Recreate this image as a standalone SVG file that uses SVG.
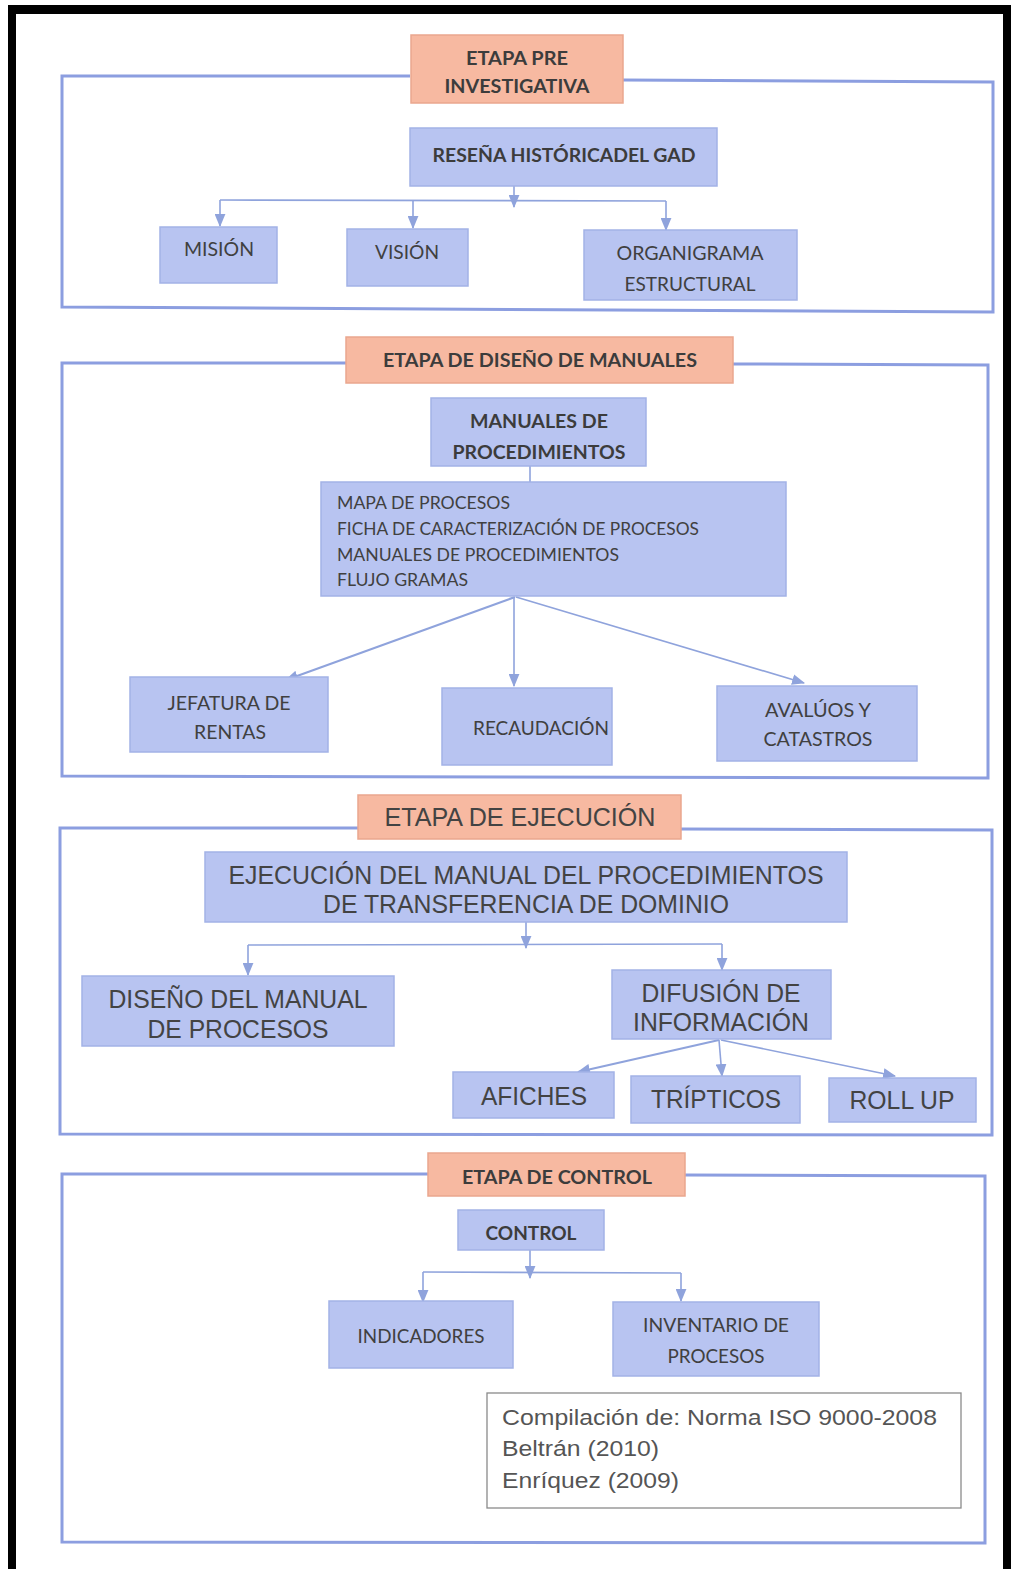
<svg xmlns="http://www.w3.org/2000/svg" width="1014" height="1569" viewBox="0 0 1014 1569">
<defs>
<style>
.frame{fill:none;stroke:#8c9ee0;stroke-width:3}
.box{fill:#b8c4f1;stroke:#a3b2e6;stroke-width:1.5}
.title{fill:#f7b9a1;stroke:#eaa78e;stroke-width:1.5}
.c{font-family:Lato,"Open Sans",sans-serif;fill:#404040;text-anchor:middle}
.cb{font-family:Lato,"Open Sans",sans-serif;fill:#3c3c3c;text-anchor:middle;font-weight:bold}
.cl{font-family:Lato,"Open Sans",sans-serif;fill:#404040}
.a{font-family:"Liberation Sans",Arial,sans-serif;fill:#434343;text-anchor:middle}
.al{font-family:"Liberation Sans",Arial,sans-serif;fill:#555555}
.con{fill:none;stroke:#8fa3dc;stroke-width:1.6}
.conw{fill:none;stroke:#8fa3dc;stroke-width:2.2}
</style>
<marker id="arrL" viewBox="0 0 12 10" refX="11" refY="5" markerWidth="13" markerHeight="11" markerUnits="userSpaceOnUse" orient="auto">
<path d="M0,0 L12,5 L0,10 z" fill="#8fa3dc"/>
</marker>
</defs>
<rect width="1014" height="1569" fill="#ffffff"/>
<g id="outer-frame" fill="#000000">
<rect x="8" y="5" width="1003" height="9"/>
<rect x="8" y="5" width="8" height="1564"/>
<rect x="1003" y="5" width="8" height="1564"/>
</g>
<g id="frames">
<path class="frame" d="M410,76 L62,76 L62,307 L993,312 L993,82 L623,80"/>
<path class="frame" d="M346,363 L62,363 L62,776 L988,778 L988,365 L733,364"/>
<path class="frame" d="M358,828 L60,828 L60,1134 L992,1135 L992,830 L681,829"/>
<path class="frame" d="M428,1174 L62,1174 L62,1542 L985,1543 L985,1176 L685,1175"/>
</g>
<g id="connectors">
<line class="con" x1="514" y1="186" x2="514" y2="207" marker-end="url(#arrL)"/>
<line class="con" x1="220" y1="200" x2="666" y2="201"/>
<line class="con" x1="220" y1="200" x2="220" y2="226" marker-end="url(#arrL)"/>
<line class="con" x1="413" y1="200" x2="413" y2="228" marker-end="url(#arrL)"/>
<line class="con" x1="666" y1="201" x2="666" y2="230" marker-end="url(#arrL)"/>
<line class="con" x1="530" y1="466" x2="530" y2="482"/>
<line class="conw" x1="515" y1="597" x2="286" y2="680" marker-end="url(#arrL)"/>
<line class="con" x1="514" y1="597" x2="514" y2="686" marker-end="url(#arrL)"/>
<line class="con" x1="516" y1="597" x2="804" y2="683" marker-end="url(#arrL)"/>
<line class="con" x1="526" y1="922" x2="526" y2="948" marker-end="url(#arrL)"/>
<line class="con" x1="248" y1="945" x2="722" y2="944"/>
<line class="con" x1="248" y1="945" x2="248" y2="975" marker-end="url(#arrL)"/>
<line class="con" x1="722" y1="944" x2="722" y2="970" marker-end="url(#arrL)"/>
<line class="conw" x1="719" y1="1040" x2="578" y2="1072" marker-end="url(#arrL)"/>
<line class="con" x1="719" y1="1040" x2="722" y2="1076" marker-end="url(#arrL)"/>
<line class="con" x1="721" y1="1040" x2="895" y2="1076" marker-end="url(#arrL)"/>
<line class="con" x1="530" y1="1250" x2="530" y2="1278" marker-end="url(#arrL)"/>
<line class="con" x1="423" y1="1272" x2="681" y2="1273"/>
<line class="con" x1="423" y1="1272" x2="423" y2="1302" marker-end="url(#arrL)"/>
<line class="con" x1="681" y1="1273" x2="681" y2="1301" marker-end="url(#arrL)"/>
</g>
<g id="etapa-pre">
<rect class="title" x="411" y="35" width="212" height="68"/>
<text class="cb" x="517" y="65" font-size="19" textLength="102" lengthAdjust="spacingAndGlyphs">ETAPA PRE</text>
<text class="cb" x="517" y="93" font-size="19" textLength="145" lengthAdjust="spacingAndGlyphs">INVESTIGATIVA</text>
</g>
<g id="resena">
<rect class="box" x="410" y="128" width="307" height="58"/>
<text class="cb" x="564" y="162" font-size="19" textLength="263" lengthAdjust="spacingAndGlyphs">RESEÑA HISTÓRICADEL GAD</text>
</g>
<g id="mision">
<rect class="box" x="160" y="227" width="117" height="56"/>
<text class="c" x="219" y="256" font-size="19" textLength="70" lengthAdjust="spacingAndGlyphs">MISIÓN</text>
</g>
<g id="vision">
<rect class="box" x="347" y="229" width="121" height="57"/>
<text class="c" x="407" y="259" font-size="19" textLength="64" lengthAdjust="spacingAndGlyphs">VISIÓN</text>
</g>
<g id="organigrama">
<rect class="box" x="584" y="230" width="213" height="70"/>
<text class="c" x="690" y="260" font-size="19" textLength="147" lengthAdjust="spacingAndGlyphs">ORGANIGRAMA</text>
<text class="c" x="690" y="291" font-size="19" textLength="131" lengthAdjust="spacingAndGlyphs">ESTRUCTURAL</text>
</g>
<g id="etapa-diseno">
<rect class="title" x="346" y="337" width="387" height="46"/>
<text class="cb" x="540" y="367" font-size="19" textLength="314" lengthAdjust="spacingAndGlyphs">ETAPA DE DISEÑO DE MANUALES</text>
</g>
<g id="manuales">
<rect class="box" x="431" y="398" width="215" height="68"/>
<text class="cb" x="539" y="428" font-size="19" textLength="138" lengthAdjust="spacingAndGlyphs">MANUALES DE</text>
<text class="cb" x="539" y="459" font-size="19" textLength="173" lengthAdjust="spacingAndGlyphs">PROCEDIMIENTOS</text>
</g>
<g id="lista">
<rect class="box" x="321" y="482" width="465" height="114"/>
<text class="cl" x="337" y="509" font-size="17" textLength="173" lengthAdjust="spacingAndGlyphs">MAPA DE PROCESOS</text>
<text class="cl" x="337" y="535" font-size="17" textLength="362" lengthAdjust="spacingAndGlyphs">FICHA DE CARACTERIZACIÓN DE PROCESOS</text>
<text class="cl" x="337" y="561" font-size="17" textLength="282" lengthAdjust="spacingAndGlyphs">MANUALES DE PROCEDIMIENTOS</text>
<text class="cl" x="337" y="586" font-size="17" textLength="131" lengthAdjust="spacingAndGlyphs">FLUJO GRAMAS</text>
</g>
<g id="jefatura">
<rect class="box" x="130" y="677" width="198" height="75"/>
<text class="c" x="229" y="710" font-size="19" textLength="123" lengthAdjust="spacingAndGlyphs">JEFATURA DE</text>
<text class="c" x="230" y="739" font-size="19" textLength="72" lengthAdjust="spacingAndGlyphs">RENTAS</text>
</g>
<g id="recaudacion">
<rect class="box" x="442" y="688" width="170" height="77"/>
<text class="c" x="541" y="735" font-size="19" textLength="136" lengthAdjust="spacingAndGlyphs">RECAUDACIÓN</text>
</g>
<g id="avaluos">
<rect class="box" x="717" y="686" width="200" height="75"/>
<text class="c" x="818" y="717" font-size="19" textLength="106" lengthAdjust="spacingAndGlyphs">AVALÚOS Y</text>
<text class="c" x="818" y="746" font-size="19" textLength="109" lengthAdjust="spacingAndGlyphs">CATASTROS</text>
</g>
<g id="etapa-ejecucion">
<rect class="title" x="358" y="795" width="323" height="44"/>
<text class="a" x="520" y="826" font-size="25" fill="#555" textLength="271" lengthAdjust="spacingAndGlyphs">ETAPA DE EJECUCIÓN</text>
</g>
<g id="ejecucion">
<rect class="box" x="205" y="852" width="642" height="70"/>
<text class="a" x="526" y="884" font-size="25" textLength="595" lengthAdjust="spacingAndGlyphs">EJECUCIÓN DEL MANUAL DEL PROCEDIMIENTOS</text>
<text class="a" x="526" y="913" font-size="25" textLength="406" lengthAdjust="spacingAndGlyphs">DE TRANSFERENCIA DE DOMINIO</text>
</g>
<g id="diseno-manual">
<rect class="box" x="82" y="976" width="312" height="70"/>
<text class="a" x="238" y="1008" font-size="25" textLength="259" lengthAdjust="spacingAndGlyphs">DISEÑO DEL MANUAL</text>
<text class="a" x="238" y="1038" font-size="25" textLength="181" lengthAdjust="spacingAndGlyphs">DE PROCESOS</text>
</g>
<g id="difusion">
<rect class="box" x="612" y="970" width="219" height="69"/>
<text class="a" x="721" y="1002" font-size="25" textLength="159" lengthAdjust="spacingAndGlyphs">DIFUSIÓN DE</text>
<text class="a" x="721" y="1031" font-size="25" textLength="176" lengthAdjust="spacingAndGlyphs">INFORMACIÓN</text>
</g>
<g id="afiches">
<rect class="box" x="453" y="1072" width="161" height="46"/>
<text class="a" x="534" y="1105" font-size="25" textLength="106" lengthAdjust="spacingAndGlyphs">AFICHES</text>
</g>
<g id="tripticos">
<rect class="box" x="631" y="1076" width="169" height="47"/>
<text class="a" x="716" y="1108" font-size="25" textLength="130" lengthAdjust="spacingAndGlyphs">TRÍPTICOS</text>
</g>
<g id="rollup">
<rect class="box" x="829" y="1078" width="147" height="44"/>
<text class="a" x="902" y="1109" font-size="25" textLength="105" lengthAdjust="spacingAndGlyphs">ROLL UP</text>
</g>
<g id="etapa-control">
<rect class="title" x="428" y="1153" width="257" height="43"/>
<text class="cb" x="557" y="1184" font-size="19" textLength="190" lengthAdjust="spacingAndGlyphs">ETAPA DE CONTROL</text>
</g>
<g id="control">
<rect class="box" x="458" y="1210" width="146" height="40"/>
<text class="cb" x="531" y="1240" font-size="19" textLength="91" lengthAdjust="spacingAndGlyphs">CONTROL</text>
</g>
<g id="indicadores">
<rect class="box" x="329" y="1301" width="184" height="67"/>
<text class="c" x="421" y="1343" font-size="19" textLength="127" lengthAdjust="spacingAndGlyphs">INDICADORES</text>
</g>
<g id="inventario">
<rect class="box" x="613" y="1302" width="206" height="74"/>
<text class="c" x="716" y="1332" font-size="19" textLength="146" lengthAdjust="spacingAndGlyphs">INVENTARIO DE</text>
<text class="c" x="716" y="1363" font-size="19" textLength="97" lengthAdjust="spacingAndGlyphs">PROCESOS</text>
</g>
<g id="cita">
<rect x="487" y="1393" width="474" height="115" fill="#ffffff" stroke="#8a8a8a" stroke-width="1.3"/>
<text class="al" x="502" y="1425" font-size="22" textLength="435" lengthAdjust="spacingAndGlyphs">Compilación de: Norma ISO 9000-2008</text>
<text class="al" x="502" y="1456" font-size="22" textLength="157" lengthAdjust="spacingAndGlyphs">Beltrán (2010)</text>
<text class="al" x="502" y="1488" font-size="22" textLength="177" lengthAdjust="spacingAndGlyphs">Enríquez (2009)</text>
</g>
</svg>
